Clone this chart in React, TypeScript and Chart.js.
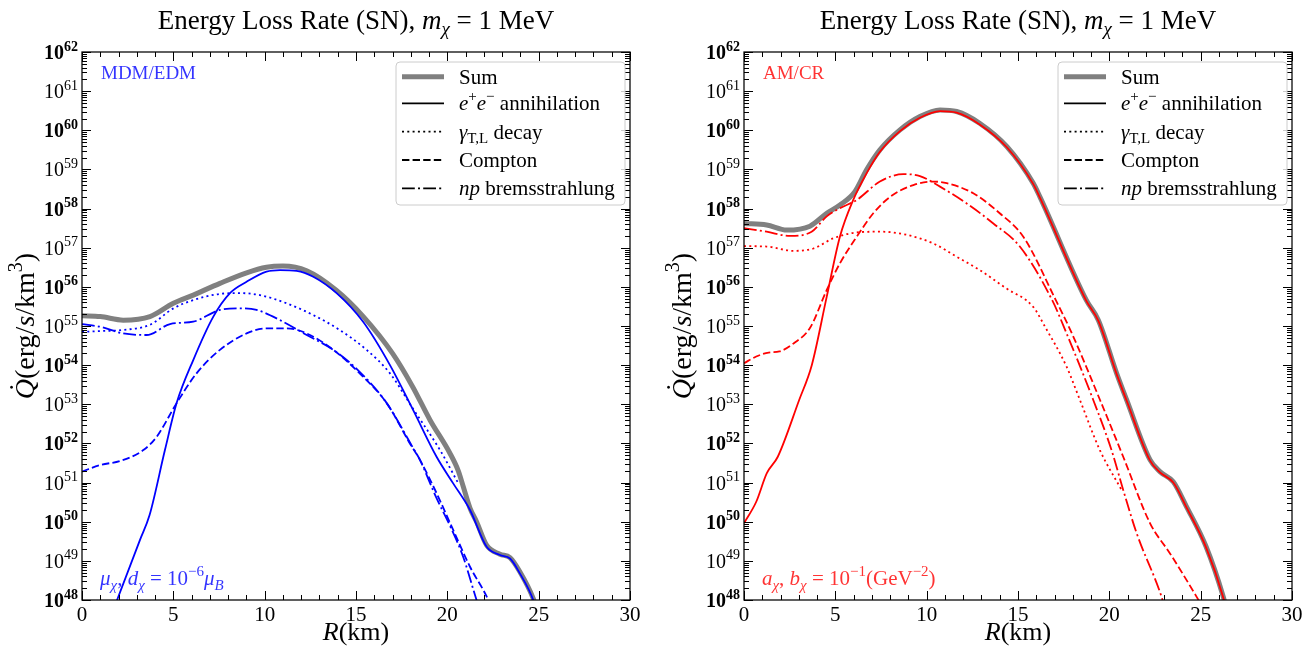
import React, { useEffect, useRef } from "react";
import { Chart, registerables } from "chart.js";

Chart.register(...registerables);

const FAMILY = '"Liberation Serif", "Times New Roman", serif';

// ---------- axis / tick data ----------
const X_MIN = 0;
const X_MAX = 30;
const xMajorTicks = [0, 5, 10, 15, 20, 25, 30];
const xMinorTicks = [1, 2, 3, 4, 6, 7, 8, 9, 11, 12, 13, 14, 16, 17, 18, 19, 21, 22, 23, 24, 26, 27, 28, 29];
const yDecadeExponents = [48, 49, 50, 51, 52, 53, 54, 55, 56, 57, 58, 59, 60, 61, 62];
const yMinorMantissas = [2, 3, 4, 5, 6, 7, 8, 9];
const Y_MIN_EXP = 48;
const Y_MAX_EXP = 62;

// ---------- left panel (MDM/EDM) : R [km], log10 Qdot [erg/s/km^3] ----------
const leftSumR = [0, 1.0, 2.26, 3.72, 5.0, 6.09, 7.55, 9.01, 10.1, 11.0, 12.3, 13.9, 15.4, 17.0, 18.1, 19.05, 20.14, 20.6, 20.87, 21.24, 21.6, 22.15, 22.88, 23.43, 23.97, 24.7, 24.9];
const leftSumLogQ = [55.26, 55.24, 55.15, 55.24, 55.58, 55.79, 56.09, 56.36, 56.5, 56.53, 56.41, 55.92, 55.24, 54.3, 53.45, 52.6, 51.75, 51.3, 50.9, 50.35, 50.0, 49.4, 49.17, 49.08, 48.72, 48.04, 47.75];

const leftAnnR = [1.8, 1.92, 3.17, 3.7, 4.54, 5.18, 6.09, 7.19, 8.1, 9.01, 10.1, 10.84, 11.75, 12.66, 13.94, 15.4, 16.86, 18.13, 19.41, 20.32, 21.24, 22.15, 22.88, 23.43, 23.97, 24.7, 24.85];
const leftAnnLogQ = [47.85, 48.0, 49.53, 50.17, 51.83, 53.03, 54.13, 55.24, 55.84, 56.13, 56.39, 56.43, 56.41, 56.26, 55.84, 55.1, 54.0, 52.85, 51.66, 50.98, 50.3, 49.36, 49.15, 49.06, 48.68, 48.0, 47.75];

const leftDecayR = [0, 1.0, 2.26, 3.72, 5.0, 6.09, 7.55, 8.65, 9.74, 11.2, 12.66, 14.1, 15.58, 16.86, 18.13, 19.6, 20.6];
const leftDecayLogQ = [54.85, 54.87, 54.9, 55.03, 55.45, 55.66, 55.82, 55.84, 55.79, 55.58, 55.28, 54.9, 54.39, 53.79, 52.88, 51.83, 50.98];

const leftComptonR = [0, 1.0, 2.08, 3.36, 4.09, 5.18, 6.27, 7.55, 9.01, 10.1, 11.2, 12.3, 13.76, 15.2, 16.68, 17.95, 18.5, 19.41, 20.32, 21.24, 22.24, 22.4];
const leftComptonLogQ = [51.28, 51.45, 51.55, 51.83, 52.17, 53.03, 53.79, 54.39, 54.81, 54.94, 54.94, 54.81, 54.39, 53.79, 53.03, 52.0, 51.58, 50.73, 49.79, 48.85, 48.0, 47.8];

const leftBremR = [0, 0.99, 2.26, 3.54, 4.82, 6.09, 7.55, 8.65, 9.56, 10.84, 12.3, 13.76, 15.2, 16.68, 18.13, 18.5, 19.41, 20.14, 20.87, 21.6, 21.75];
const leftBremLogQ = [55.05, 54.98, 54.81, 54.77, 55.05, 55.11, 55.41, 55.45, 55.41, 55.15, 54.77, 54.39, 53.83, 53.03, 51.88, 51.58, 50.6, 49.9, 49.1, 48.0, 47.8];

// ---------- right panel (AM/CR) ----------
const rightSumR = [0, 1.24, 2.34, 3.61, 4.53, 5.25, 6.07, 6.71, 7.44, 8.54, 9.63, 10.73, 11.64, 12.9, 14.4, 15.83, 16.2, 18.74, 19.4, 20.4, 20.95, 22.23, 22.77, 23.5, 24.23, 25.3, 26.24, 26.4];
const rightSumLogQ = [57.62, 57.58, 57.45, 57.55, 57.88, 58.09, 58.43, 58.99, 59.5, 60.01, 60.35, 60.52, 60.48, 60.18, 59.58, 58.65, 58.3, 55.66, 55.15, 53.79, 53.11, 51.58, 51.28, 51.02, 50.38, 49.36, 48.08, 47.8];

const rightAnnR = [0, 0.67, 1.25, 1.85, 3.02, 3.71, 4.53, 5.25, 5.98, 6.71, 7.44, 8.54, 9.63, 10.73, 11.64, 12.9, 14.4, 15.83, 16.2, 18.74, 19.4, 20.4, 20.95, 22.23, 22.77, 23.5, 24.23, 25.3, 26.24, 26.4];
const rightAnnLogQ = [49.96, 50.51, 51.24, 51.66, 53.11, 54.0, 55.75, 57.28, 58.22, 58.9, 59.45, 59.98, 60.32, 60.49, 60.45, 60.15, 59.56, 58.63, 58.28, 55.64, 55.13, 53.77, 53.09, 51.56, 51.26, 51.0, 50.36, 49.34, 48.06, 47.75];

const rightDecayR = [0, 1.24, 2.7, 3.8, 4.89, 6.17, 7.44, 8.9, 10.36, 11.64, 12.9, 14.36, 15.83, 16.48, 17.66, 18.39, 19.48, 20.67];
const rightDecayLogQ = [57.04, 57.03, 56.92, 56.98, 57.24, 57.39, 57.41, 57.33, 57.11, 56.77, 56.43, 55.96, 55.49, 54.98, 53.96, 53.11, 51.83, 50.81];

const rightComptonR = [0, 0.67, 1.35, 1.94, 2.73, 3.61, 4.53, 5.25, 6.17, 7.08, 8.0, 9.27, 10.36, 11.1, 12.55, 14.0, 15.29, 17.07, 17.95, 19.49, 20.76, 22.23, 23.32, 24.78, 25.0];
const rightComptonLogQ = [54.05, 54.22, 54.32, 54.35, 54.56, 54.95, 55.92, 56.6, 57.28, 57.88, 58.3, 58.6, 58.69, 58.65, 58.39, 57.88, 57.28, 55.66, 54.81, 53.11, 51.66, 49.96, 49.19, 48.08, 47.9];

const rightBremR = [0, 1.24, 2.52, 3.7, 4.53, 5.25, 6.17, 7.44, 8.72, 9.63, 10.73, 12.19, 13.65, 15.1, 16.87, 17.66, 19.12, 20.12, 20.76, 21.5, 22.86, 23.0];
const rightBremLogQ = [57.5, 57.41, 57.3, 57.41, 57.8, 58.01, 58.22, 58.69, 58.88, 58.83, 58.56, 58.13, 57.62, 57.03, 55.66, 54.81, 53.11, 51.83, 50.81, 49.7, 48.08, 47.85];

// ---------- text ----------
type Run = { t: string; it?: boolean; b?: boolean; sub?: boolean; sup?: boolean; dot?: boolean };

const titleRuns: Run[] = [
  { t: "Energy Loss Rate (SN), " },
  { t: "m", it: true },
  { t: "χ", it: true, sub: true },
  { t: " = 1 MeV" },
];
const xLabelRuns: Run[] = [{ t: "R", it: true }, { t: "(km)" }];
const yLabelRuns: Run[] = [
  { t: "Q", it: true, dot: true },
  { t: "(erg/" },
  { t: "s", it: true },
  { t: "/km" },
  { t: "3", sup: true },
  { t: ")" },
];
const legendLabels: Run[][] = [
  [{ t: "Sum" }],
  [{ t: "e", it: true }, { t: "+", sup: true }, { t: "e", it: true }, { t: "−", sup: true }, { t: " annihilation" }],
  [{ t: "γ", it: true }, { t: "T,L", sub: true }, { t: " decay" }],
  [{ t: "Compton" }],
  [{ t: "np", it: true }, { t: " bremsstrahlung" }],
];
const leftTagRuns: Run[] = [{ t: "MDM/EDM" }];
const leftNoteRuns: Run[] = [
  { t: "μ", it: true }, { t: "χ", it: true, sub: true }, { t: ", " },
  { t: "d", it: true }, { t: "χ", it: true, sub: true }, { t: " = 10" },
  { t: "−6", sup: true }, { t: "μ", it: true }, { t: "B", it: true, sub: true },
];
const rightTagRuns: Run[] = [{ t: "AM/CR" }];
const rightNoteRuns: Run[] = [
  { t: "a", it: true }, { t: "χ", it: true, sub: true }, { t: ", " },
  { t: "b", it: true }, { t: "χ", it: true, sub: true }, { t: " = 10" },
  { t: "−1", sup: true }, { t: "(GeV" }, { t: "−2", sup: true }, { t: ")" },
];

// ---------- styles ----------
const SUM_COLOR = "#808080";
const STYLE_SOLID: number[] = [];
const STYLE_DOTTED = [2, 3.3];
const STYLE_DASHED = [7.4, 3.2];
const STYLE_DASHDOT = [12.8, 3.2, 2, 3.2];
const legendDashes = [STYLE_SOLID, STYLE_SOLID, STYLE_DOTTED, STYLE_DASHED, STYLE_DASHDOT];

type Curve = { r: number[]; q: number[] };
type PanelSpec = {
  left: number;
  width: number;
  yAxisWidth: number;
  padRight: number;
  color: string;
  tagColor: string;
  curves: Curve[]; // sum, ann, decay, compton, brem
  tag: Run[];
  note: Run[];
};

const panels: PanelSpec[] = [
  {
    left: 0,
    width: 657,
    yAxisWidth: 82,
    padRight: 27,
    color: "#0000ff",
    tagColor: "rgba(0,0,255,0.8)",
    curves: [
      { r: leftSumR, q: leftSumLogQ },
      { r: leftAnnR, q: leftAnnLogQ },
      { r: leftDecayR, q: leftDecayLogQ },
      { r: leftComptonR, q: leftComptonLogQ },
      { r: leftBremR, q: leftBremLogQ },
    ],
    tag: leftTagRuns,
    note: leftNoteRuns,
  },
  {
    left: 657,
    width: 658,
    yAxisWidth: 87,
    padRight: 23,
    color: "#ff0000",
    tagColor: "rgba(255,0,0,0.8)",
    curves: [
      { r: rightSumR, q: rightSumLogQ },
      { r: rightAnnR, q: rightAnnLogQ },
      { r: rightDecayR, q: rightDecayLogQ },
      { r: rightComptonR, q: rightComptonLogQ },
      { r: rightBremR, q: rightBremLogQ },
    ],
    tag: rightTagRuns,
    note: rightNoteRuns,
  },
];

// ---------- rich text helpers ----------
function fontOf(r: Run, size: number) {
  const s = r.sub || r.sup ? Math.round(size * 0.7) : size;
  return `${r.it ? "italic " : ""}${r.b ? "bold " : ""}${s}px ${FAMILY}`;
}
function runsWidth(ctx: CanvasRenderingContext2D, runs: Run[], size: number) {
  let w = 0;
  for (const r of runs) {
    ctx.font = fontOf(r, size);
    w += ctx.measureText(r.t).width;
  }
  return w;
}
function drawRuns(
  ctx: CanvasRenderingContext2D,
  runs: Run[],
  x: number,
  y: number,
  size: number,
  align: "left" | "center" | "right"
) {
  const w = runsWidth(ctx, runs, size);
  let cx = align === "center" ? x - w / 2 : align === "right" ? x - w : x;
  ctx.textBaseline = "alphabetic";
  for (const r of runs) {
    ctx.textAlign = "left";
    ctx.font = fontOf(r, size);
    const dy = r.sup ? -0.42 * size : r.sub ? 0.22 * size : 0;
    ctx.fillText(r.t, cx, y + dy);
    const rw = ctx.measureText(r.t).width;
    if (r.dot) {
      ctx.font = `${size}px ${FAMILY}`;
      ctx.textAlign = "center";
      ctx.fillText("˙", cx + rw / 2 + size * 0.06, y - size * 0.2);
      ctx.textAlign = "left";
    }
    cx += rw;
  }
}

// ---------- decoration plugin (ticks, frame, labels, legend) ----------
function makeDecorPlugin(p: PanelSpec) {
  return {
    id: "decor" + p.left,
    afterDatasetsDraw(chart: any) {
      const { ctx, chartArea: a, scales } = chart;
      const xs = scales.x;
      const ys = scales.y;
      const MAJOR = 9;
      const MINOR = 5;
      ctx.save();
      ctx.strokeStyle = "#000";
      ctx.lineWidth = 1;
      const seg = (x1: number, y1: number, x2: number, y2: number) => {
        ctx.beginPath();
        ctx.moveTo(x1, y1);
        ctx.lineTo(x2, y2);
        ctx.stroke();
      };
      for (const v of xMajorTicks) {
        const px = Math.round(xs.getPixelForValue(v)) + 0.5;
        seg(px, a.bottom, px, a.bottom - MAJOR);
        seg(px, a.top, px, a.top + MAJOR);
      }
      for (const v of xMinorTicks) {
        const px = Math.round(xs.getPixelForValue(v)) + 0.5;
        seg(px, a.bottom, px, a.bottom - MINOR);
        seg(px, a.top, px, a.top + MINOR);
      }
      for (const e of yDecadeExponents) {
        const py = Math.round(ys.getPixelForValue(Math.pow(10, e))) + 0.5;
        seg(a.left, py, a.left + MAJOR, py);
        seg(a.right, py, a.right - MAJOR, py);
        if (e < Y_MAX_EXP) {
          for (const m of yMinorMantissas) {
            const pm = Math.round(ys.getPixelForValue(m * Math.pow(10, e))) + 0.5;
            seg(a.left, pm, a.left + MINOR, pm);
            seg(a.right, pm, a.right - MINOR, pm);
          }
        }
      }
      // frame
      ctx.lineWidth = 1.25;
      ctx.strokeRect(a.left, a.top, a.right - a.left, a.bottom - a.top);

      ctx.fillStyle = "#000";
      // y tick labels 10^n
      for (const e of yDecadeExponents) {
        const py = ys.getPixelForValue(Math.pow(10, e));
        const bold = e % 2 === 0;
        drawRuns(ctx, [{ t: "10", b: bold }, { t: String(e), sup: true, b: bold }], a.left - 4, py + 7, 20, "right");
      }
      // title
      const cxMid = (a.left + a.right) / 2;
      drawRuns(ctx, titleRuns, cxMid, 29, 27, "center");
      // x label
      drawRuns(ctx, xLabelRuns, cxMid, 640, 26, "center");
      // y label (rotated)
      ctx.save();
      ctx.translate(34, (a.top + a.bottom) / 2);
      ctx.rotate(-Math.PI / 2);
      drawRuns(ctx, yLabelRuns, 0, 0, 28, "center");
      ctx.restore();

      // panel tags
      ctx.fillStyle = p.tagColor;
      drawRuns(ctx, p.tag, a.left + 19, a.top + 27, 19, "left");
      drawRuns(ctx, p.note, a.left + 18, a.bottom - 15, 21, "left");

      // legend
      const bx = a.right - 234;
      const bw = 229;
      const by = a.top + 10;
      const bh = 143;
      const rad = 4;
      ctx.beginPath();
      ctx.moveTo(bx + rad, by);
      ctx.lineTo(bx + bw - rad, by);
      ctx.arcTo(bx + bw, by, bx + bw, by + rad, rad);
      ctx.lineTo(bx + bw, by + bh - rad);
      ctx.arcTo(bx + bw, by + bh, bx + bw - rad, by + bh, rad);
      ctx.lineTo(bx + rad, by + bh);
      ctx.arcTo(bx, by + bh, bx, by + bh - rad, rad);
      ctx.lineTo(bx, by + rad);
      ctx.arcTo(bx, by, bx + rad, by, rad);
      ctx.closePath();
      ctx.fillStyle = "rgba(255,255,255,0.8)";
      ctx.fill();
      ctx.strokeStyle = "#cccccc";
      ctx.lineWidth = 1;
      ctx.stroke();
      const rowY = [24.7, 51.3, 79.7, 108, 136.3];
      legendLabels.forEach((runs, i) => {
        const y = a.top + rowY[i];
        ctx.save();
        ctx.strokeStyle = i === 0 ? SUM_COLOR : "#000";
        ctx.lineWidth = i === 0 ? 5 : 1.8;
        ctx.setLineDash(legendDashes[i]);
        ctx.beginPath();
        ctx.moveTo(a.right - 228, y);
        ctx.lineTo(a.right - 186, y);
        ctx.stroke();
        ctx.restore();
        ctx.fillStyle = "#000";
        drawRuns(ctx, runs, a.right - 171, y + 6.8, 21, "left");
      });
      ctx.restore();
    },
  };
}

function makeConfig(p: PanelSpec): any {
  const dashes = [STYLE_SOLID, STYLE_SOLID, STYLE_DOTTED, STYLE_DASHED, STYLE_DASHDOT];
  const datasets = p.curves.map((c, i) => ({
    label: String(i),
    data: c.r.map((r, k) => ({ x: r, y: Math.pow(10, c.q[k]) })),
    borderColor: i === 0 ? SUM_COLOR : p.color,
    borderWidth: i === 0 ? 5 : 1.8,
    borderDash: dashes[i],
    borderCapStyle: "butt",
    borderJoinStyle: "round",
    pointRadius: 0,
    fill: false,
    cubicInterpolationMode: "monotone",
    clip: 0,
    order: i === 0 ? 10 : 5 - i,
  }));
  return {
    type: "line",
    data: { datasets },
    options: {
      animation: false,
      responsive: false,
      devicePixelRatio: 1,
      layout: { padding: { left: 0, right: p.padRight, top: 52, bottom: 0 } },
      plugins: {
        legend: { display: false },
        tooltip: { enabled: false },
        title: { display: false },
      },
      events: [],
      scales: {
        x: {
          type: "linear",
          min: X_MIN,
          max: X_MAX,
          afterFit: (s: any) => {
            s.height = 52;
          },
          afterBuildTicks: (s: any) => {
            s.ticks = xMajorTicks.map((v) => ({ value: v }));
          },
          ticks: {
            font: { family: FAMILY, size: 21 },
            color: "#000",
            padding: 3,
            maxRotation: 0,
            autoSkip: false,
          },
          grid: { display: false, drawTicks: false },
          border: { display: false },
        },
        y: {
          type: "logarithmic",
          min: Math.pow(10, Y_MIN_EXP),
          max: Math.pow(10, Y_MAX_EXP),
          afterFit: (s: any) => {
            s.width = p.yAxisWidth;
          },
          ticks: { display: false },
          grid: { display: false, drawTicks: false },
          border: { display: false },
        },
      },
    },
    plugins: [makeDecorPlugin(p)],
  };
}

function Panel({ spec }: { spec: PanelSpec }) {
  const ref = useRef<HTMLCanvasElement>(null);
  useEffect(() => {
    const chart = new Chart(ref.current as HTMLCanvasElement, makeConfig(spec));
    return () => chart.destroy();
  }, [spec]);
  return (
    <canvas
      ref={ref}
      width={spec.width}
      height={652}
      style={{ position: "absolute", left: spec.left, top: 0, width: spec.width, height: 652 }}
    />
  );
}

export default function App() {
  return (
    <div
      style={{
        position: "fixed",
        left: 0,
        top: 0,
        width: 1315,
        height: 652,
        background: "#ffffff",
        overflow: "hidden",
      }}
    >
      {panels.map((p) => (
        <Panel key={p.left} spec={p} />
      ))}
    </div>
  );
}
